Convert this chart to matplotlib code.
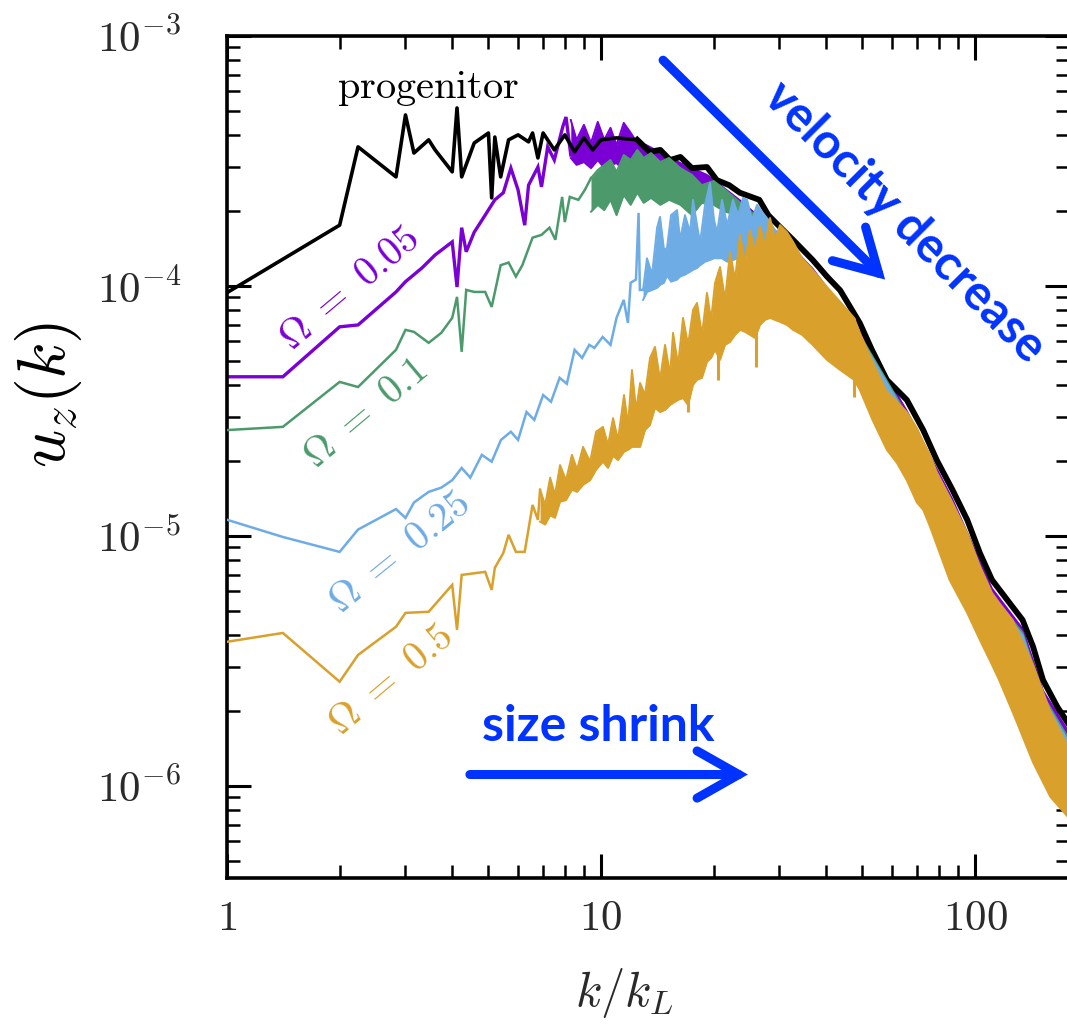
import numpy as np
import matplotlib
matplotlib.use('Agg')
import matplotlib.pyplot as plt
from matplotlib.patches import FancyArrowPatch, ArrowStyle
from matplotlib.ticker import LogLocator, NullFormatter

plt.rcParams['mathtext.fontset'] = 'cm'

# colours
c_prog = '#000000'
c_005 = '#7A00D6'
c_01 = '#4C9A6C'
c_025 = '#6EACE6'
c_05 = '#D9A02B'
c_note = '#0033FF'

# progenitor spectrum
black_k = [1, 2, 2.24, 2.83, 3, 3.16, 3.46, 3.6, 4.0, 4.12, 4.24, 4.58, 5.0, 5.1, 5.2,
           5.39, 5.66, 6.0, 6.4, 6.56, 6.78, 7.0, 7.5, 8.0, 8.5, 9.0, 9.5, 10, 11, 12.5,
           13.5, 14.4, 15.3, 16.3, 17.5, 19.2, 20.4, 22, 23.5, 26.5, 28, 30.1, 32.6, 36.8,
           40.2, 43.6, 49.2, 53, 58.1, 65.7, 72.7, 79, 87, 95.3, 103, 111, 126, 134, 143,
           152, 166, 180]
black_u = [9.4e-5, 1.75e-4, 3.6e-4, 2.73e-4, 4.83e-4, 3.4e-4, 3.84e-4, 3.5e-4, 2.86e-4,
           5.15e-4, 2.73e-4, 3.73e-4, 4.09e-4, 2.25e-4, 3.94e-4, 2.73e-4, 3.84e-4, 4.02e-4,
           3.77e-4, 4.09e-4, 3.25e-4, 4.09e-4, 3.5e-4, 4.02e-4, 3.44e-4, 3.91e-4, 3.5e-4,
           3.84e-4, 3.91e-4, 3.84e-4, 3.44e-4, 3.5e-4, 3.19e-4, 3.28e-4, 2.96e-4, 2.99e-4,
           2.65e-4, 2.53e-4, 2.36e-4, 2.21e-4, 1.92e-4, 1.72e-4, 1.53e-4, 1.27e-4, 1.09e-4,
           9.6e-5, 7.1e-5, 5.55e-5, 4.21e-5, 3.5e-5, 2.65e-5, 2.01e-5, 1.53e-5, 1.16e-5,
           8.55e-6, 6.67e-6, 5.2e-6, 4.61e-6, 3.6e-6, 2.65e-6, 2.07e-6, 1.72e-6]

# Omega = 0.05
purple_k = [1, 1.41, 2, 2.24, 2.83, 3, 3.32, 3.6, 4, 4.12, 4.24, 4.36, 4.58, 4.9, 5.2,
            5.48, 5.74, 6.0, 6.25, 6.4, 6.78, 6.93, 7.2, 7.5, 7.9, 8.06, 8.3]
purple_u = [4.33e-5, 4.33e-5, 6.86e-5, 6.98e-5, 9.46e-5, 1.04e-4, 1.18e-4, 1.33e-4, 1.50e-4,
            9.9e-5, 1.71e-4, 1.37e-4, 1.64e-4, 1.92e-4, 2.21e-4, 2.36e-4, 2.96e-4, 2.42e-4,
            1.75e-4, 2.53e-4, 2.99e-4, 2.49e-4, 3.6e-4, 3.19e-4, 4.33e-4, 4.74e-4, 3.34e-4]
purple_band_k = [8.3, 8.6, 9.0, 9.4, 9.8, 10.2, 10.6, 11.0, 11.5, 12.0, 12.4, 13.3, 16.3,
                 19.2, 23.5, 30.1, 36.8, 49.2, 65.7, 87, 111, 134, 152, 180]
purple_top = [4.61e-4, 3.84e-4, 4.41e-4, 3.74e-4, 4.53e-4, 3.84e-4, 4.29e-4, 3.66e-4, 4.49e-4,
              4.10e-4, 3.80e-4, 3.64e-4, 3.10e-4, 2.78e-4, 2.20e-4, 1.60e-4, 1.17e-4, 6.55e-5,
              3.16e-5, 1.40e-5, 6.15e-6, 4.25e-6, 2.40e-6, 1.60e-6]
purple_bot = [3.25e-4, 3.05e-4, 3.13e-4, 2.96e-4, 3.19e-4, 2.96e-4, 3.05e-4, 3.10e-4, 2.91e-4,
              3.19e-4, 2.96e-4, 2.78e-4, 2.49e-4, 2.21e-4, 1.89e-4, 1.42e-4, 1.04e-4, 5.81e-5,
              2.78e-5, 1.21e-5, 5.06e-6, 3.5e-6, 1.84e-6, 1.14e-6]

# Omega = 0.1
green_k = [1, 1.41, 2, 2.24, 2.83, 3, 3.16, 3.46, 3.74, 4, 4.12, 4.24, 4.36, 4.58, 4.9,
           5.1, 5.39, 5.66, 5.92, 6.16, 6.56, 6.93, 7.28, 7.55, 7.87, 8.0, 8.25, 8.7, 9.05, 9.4]
green_u = [2.65e-5, 2.73e-5, 4.13e-5, 3.94e-5, 5.55e-5, 6.67e-5, 6.55e-5, 5.92e-5, 6.49e-5,
           7.45e-5, 9.04e-5, 5.45e-5, 9.64e-5, 9.46e-5, 9.46e-5, 8.24e-5, 1.21e-4, 1.24e-4,
           1.09e-4, 1.21e-4, 1.56e-4, 1.60e-4, 1.71e-4, 1.53e-4, 2.27e-4, 1.80e-4, 2.27e-4,
           2.21e-4, 2.42e-4, 2.70e-4]
green_band_k = [9.4, 9.8, 10.2, 10.6, 11.0, 11.5, 12.0, 12.5, 13.0, 13.6, 14.4, 15.2, 16.3,
                17.5, 18.6, 20, 21.5, 23.5, 30.1, 36.8, 49.2, 65.7, 87, 111, 134, 152, 180]
green_top = [2.70e-4, 2.91e-4, 3.05e-4, 3.19e-4, 2.86e-4, 3.34e-4, 3.19e-4, 3.50e-4, 3.25e-4,
             3.40e-4, 3.13e-4, 3.25e-4, 2.96e-4, 2.78e-4, 2.53e-4, 2.63e-4, 2.42e-4, 2.16e-4,
             1.57e-4, 1.14e-4, 6.37e-5, 3.05e-5, 1.36e-5, 5.82e-6, 4.10e-6, 2.30e-6, 1.50e-6]
green_bot = [1.98e-4, 2.11e-4, 2.01e-4, 2.21e-4, 1.92e-4, 2.31e-4, 2.11e-4, 2.36e-4, 2.15e-4,
             2.25e-4, 2.11e-4, 2.21e-4, 2.11e-4, 1.92e-4, 2.15e-4, 2.11e-4, 1.98e-4, 1.91e-4,
             1.39e-4, 1.01e-4, 5.55e-5, 2.65e-5, 1.16e-5, 4.83e-6, 3.34e-6, 1.71e-6, 1.01e-6]

# Omega = 0.25
blue_k = [1, 1.41, 2, 2.24, 2.83, 3, 3.16, 3.46, 3.74, 4.0, 4.24, 4.47, 4.8, 5.1, 5.4,
          5.74, 6.0, 6.32, 6.63, 7.0, 7.35, 7.75, 8.1, 8.5, 8.9, 9.3, 9.6, 10.1, 10.6, 11.0,
          11.5, 11.8, 12.0, 12.4, 12.6, 12.7, 12.95]
blue_u = [1.16e-5, 9.9e-6, 8.63e-6, 1.06e-5, 1.28e-5, 1.18e-5, 1.36e-5, 1.50e-5, 1.56e-5,
          1.67e-5, 1.87e-5, 1.71e-5, 2.11e-5, 1.98e-5, 2.42e-5, 2.61e-5, 2.42e-5, 3.13e-5,
          2.91e-5, 3.66e-5, 3.44e-5, 4.29e-5, 4.06e-5, 5.55e-5, 5.15e-5, 5.81e-5, 5.65e-5,
          6.25e-5, 5.81e-5, 7.45e-5, 8.79e-5, 7.11e-5, 1.03e-4, 1.06e-4, 1.96e-4, 9.64e-5,
          9.64e-5]
blue_band_k = [12.95, 13.27, 13.69, 14.12, 14.38, 14.74, 15.01, 15.39, 15.97, 16.26, 16.77,
               17.30, 17.62, 18.06, 18.40, 18.97, 19.56, 20.05, 20.43, 21.06, 21.73, 22.54,
               23.25, 23.98, 24.58, 25.33, 26.13, 26.94, 28.30, 30.10, 36.8, 49.2, 65.7, 87,
               111, 134, 152, 180]
blue_top = [9.64e-5, 1.29e-4, 1.11e-4, 1.71e-4, 1.89e-4, 1.39e-4, 1.42e-4, 1.92e-4, 2.01e-4,
            1.53e-4, 1.92e-4, 1.64e-4, 2.21e-4, 1.75e-4, 1.49e-4, 2.11e-4, 2.58e-4, 1.84e-4,
            1.63e-4, 2.21e-4, 1.75e-4, 2.21e-4, 1.92e-4, 2.25e-4, 2.21e-4, 1.84e-4, 2.11e-4,
            1.98e-4, 1.80e-4, 1.55e-4, 1.12e-4, 6.25e-5, 2.98e-5, 1.33e-5, 5.70e-6, 4.00e-6,
            2.25e-6, 1.45e-6]
blue_bot = [8.79e-5, 9.46e-5, 9.64e-5, 9.82e-5, 1.01e-4, 1.03e-4, 1.10e-4, 1.04e-4, 1.06e-4,
            1.09e-4, 1.11e-4, 1.14e-4, 1.16e-4, 1.18e-4, 1.21e-4, 1.25e-4, 1.27e-4, 1.29e-4,
            1.29e-4, 1.29e-4, 1.25e-4, 1.27e-4, 1.29e-4, 1.33e-4, 1.33e-4, 1.37e-4, 1.39e-4,
            1.42e-4, 1.39e-4, 1.32e-4, 9.64e-5, 5.30e-5, 2.54e-5, 1.11e-5, 4.61e-6, 3.19e-6,
            1.60e-6, 9.2e-7]

# Omega = 0.5
gold_k = [1, 1.41, 2, 2.24, 2.83, 3, 3.46, 4, 4.12, 4.24, 4.9, 5.1, 5.2, 5.48, 5.66, 5.92,
          6.25, 6.56, 6.78, 6.87]
gold_u = [3.77e-6, 4.09e-6, 2.61e-6, 3.34e-6, 4.33e-6, 4.92e-6, 4.97e-6, 6.37e-6, 4.21e-6,
          6.98e-6, 7.18e-6, 6.08e-6, 7.45e-6, 8.55e-6, 1.01e-5, 8.63e-6, 8.63e-6, 1.33e-5,
          1.16e-5, 1.53e-5]
gold_band_k = [6.87, 7.09, 7.31, 7.53, 7.77, 8.06, 8.36, 8.63, 8.95, 9.35, 9.70, 10.12,
               10.44, 10.77, 11.10, 11.52, 11.81, 12.10, 12.41, 12.72, 13.11, 13.52, 13.94,
               14.38, 14.83, 15.30, 15.58, 16.07, 16.57, 17.09, 17.62, 18.06, 18.62, 19.20,
               19.69, 20.18, 20.81, 21.46, 22.13, 22.82, 23.53, 24.27, 25.02, 25.80, 26.61,
               27.44, 28.30, 29.19, 30.10, 31.43, 32.62, 34.5, 36.8, 40.2, 43.6, 47.5, 49.2,
               53.2, 58.1, 61.8, 65.7, 69.9, 72.7, 75.8, 79.0, 85.5, 95.3, 103, 111, 116, 126,
               143, 159, 180]
gold_top = [1.53e-5, 1.33e-5, 1.71e-5, 1.46e-5, 1.92e-5, 1.67e-5, 2.11e-5, 1.84e-5, 2.27e-5,
            1.98e-5, 2.61e-5, 2.73e-5, 2.31e-5, 2.96e-5, 2.42e-5, 3.66e-5, 2.78e-5, 4.61e-5,
            3.19e-5, 4.09e-5, 3.66e-5, 5.15e-5, 5.70e-5, 4.21e-5, 5.81e-5, 4.41e-5, 6.49e-5,
            4.83e-5, 7.45e-5, 5.81e-5, 8.02e-5, 8.55e-5, 6.37e-5, 9.38e-5, 7.31e-5, 1.03e-4,
            1.19e-4, 8.79e-5, 1.37e-4, 1.06e-4, 1.60e-4, 1.25e-4, 1.67e-4, 1.39e-4, 1.74e-4,
            1.46e-4, 1.87e-4, 1.53e-4, 1.75e-4, 1.64e-4, 1.50e-4, 1.29e-4, 1.16e-4, 9.9e-5,
            8.63e-5, 7.45e-5, 6.49e-5, 4.97e-5, 3.77e-5, 3.44e-5, 3.13e-5, 2.70e-5, 2.38e-5,
            2.11e-5, 1.80e-5, 1.43e-5, 1.03e-5, 7.59e-6, 5.92e-6, 5.40e-6, 4.61e-6, 3.05e-6,
            1.98e-6, 1.37e-6]
gold_bot = [1.14e-5, 1.11e-5, 1.21e-5, 1.18e-5, 1.37e-5, 1.39e-5, 1.53e-5, 1.50e-5, 1.60e-5,
            1.67e-5, 1.84e-5, 1.98e-5, 1.87e-5, 2.09e-5, 2.01e-5, 2.17e-5, 2.21e-5, 2.27e-5,
            2.27e-5, 2.27e-5, 2.65e-5, 2.78e-5, 3.25e-5, 3.13e-5, 3.19e-5, 3.34e-5, 3.40e-5,
            3.50e-5, 3.56e-5, 3.34e-5, 4.02e-5, 4.21e-5, 4.29e-5, 4.97e-5, 5.15e-5, 5.55e-5,
            5.06e-5, 5.81e-5, 5.97e-5, 6.37e-5, 6.67e-5, 6.55e-5, 6.37e-5, 6.19e-5, 6.98e-5,
            7.31e-5, 7.45e-5, 7.31e-5, 7.18e-5, 6.98e-5, 6.67e-5, 6.37e-5, 5.81e-5, 5.06e-5,
            4.61e-5, 4.21e-5, 3.84e-5, 2.91e-5, 2.21e-5, 1.96e-5, 1.67e-5, 1.36e-5, 1.27e-5,
            1.09e-5, 9.2e-6, 6.67e-6, 4.92e-6, 3.84e-6, 3.05e-6, 2.65e-6, 1.98e-6, 1.24e-6,
            9.04e-7, 7.31e-7]
gold_spike_k = [12.5, 17.1, 20.6, 25.9, 47.5]
gold_spike_u = [2.31e-5, 3.13e-5, 4.21e-5, 4.74e-5, 3.60e-5]


def draw_spectrum(ax, k, u, bk, top, bot, color, z, lw=1.8):
    ax.plot(k, u, color=color, lw=lw, zorder=z, solid_joinstyle='miter')
    ax.fill_between(bk, bot, top, color=color, lw=0, zorder=z)
    ax.plot(bk, top, color=color, lw=1.4, zorder=z)
    ax.plot(bk, bot, color=color, lw=1.4, zorder=z)


fig = plt.figure(figsize=(10.67, 10.27), dpi=100)
ax = fig.add_axes([0.2128, 0.1451, 0.7891, 0.8199])
ax.set_xscale('log')
ax.set_yscale('log')

draw_spectrum(ax, purple_k, purple_u, purple_band_k, purple_top, purple_bot, c_005, 2, lw=2.4)
bk_arr = np.array(black_k)
bu_arr = np.array(black_u)
ax.plot(bk_arr, bu_arr, color=c_prog, lw=2.6, zorder=3)
# the high-k part of the progenitor spectrum is a thicker noisy trace
tail = bk_arr >= 12
ax.plot(bk_arr[tail], bu_arr[tail], color=c_prog, lw=4.2, zorder=3)
draw_spectrum(ax, green_k, green_u, green_band_k, green_top, green_bot, c_01, 4)
draw_spectrum(ax, blue_k, blue_u, blue_band_k, blue_top, blue_bot, c_025, 5)
draw_spectrum(ax, gold_k, gold_u, gold_band_k, gold_top, gold_bot, c_05, 6)

# deep dips of the Omega = 0.5 spectrum
spike_base = np.exp(np.interp(np.log(gold_spike_k), np.log(gold_band_k), np.log(gold_top)))
ax.vlines(gold_spike_k, gold_spike_u, spike_base, color=c_05, lw=2.2, zorder=6)

ax.set_xlim(1, 178.4)
ax.set_ylim(4.28e-7, 1e-3)

# axes frame and ticks
for sp in ax.spines.values():
    sp.set_linewidth(2.6)
ax.set_xticks([1, 10, 100])
ax.set_xticklabels([r'$1$', r'$10$', r'$100$'])
ax.set_yticks([1e-6, 1e-5, 1e-4, 1e-3])
ax.set_yticklabels([r'$10^{-6}$', r'$10^{-5}$', r'$10^{-4}$', r'$10^{-3}$'])
ax.xaxis.set_minor_locator(LogLocator(base=10, subs=np.arange(2, 10), numticks=20))
ax.yaxis.set_minor_locator(LogLocator(base=10, subs=np.arange(2, 10), numticks=20))
ax.xaxis.set_minor_formatter(NullFormatter())
ax.yaxis.set_minor_formatter(NullFormatter())
ax.tick_params(which='both', direction='in', top=True, right=True)
ax.tick_params(which='major', length=17, width=2.2, labelsize=31, labelcolor='#2a2a2a')
ax.tick_params(which='minor', length=9.5, width=1.8)
ax.tick_params(axis='y', which='major', pad=33)
ax.tick_params(axis='x', which='major', pad=14)

ax.set_xlabel(r'$k/k_L$', fontsize=35, color='#2a2a2a')
ax.xaxis.set_label_coords(0.472, -0.104)
ax.set_ylabel(r'$u_z(k)$', fontsize=48)
ax.yaxis.set_label_coords(-0.17, 0.574)

# curve labels
ax.text(3.45, 6.2e-4, r'$\mathrm{progenitor}$', fontsize=29, ha='center', va='center')
ax.text(2.13, 9.8e-5, r'$\Omega\ =\ 0.05$', color=c_005, fontsize=29, rotation=40,
        ha='center', va='center', rotation_mode='anchor')
ax.text(2.35, 3.1e-5, r'$\Omega\ =\ 0.1$', color=c_01, fontsize=29, rotation=40,
        ha='center', va='center', rotation_mode='anchor')
ax.text(2.90, 8.6e-6, r'$\Omega\ =\ 0.25$', color=c_025, fontsize=29, rotation=39,
        ha='center', va='center', rotation_mode='anchor')
ax.text(2.75, 2.65e-6, r'$\Omega\ =\ 0.5$', color=c_05, fontsize=29, rotation=40,
        ha='center', va='center', rotation_mode='anchor')

# trend arrows
head = ArrowStyle('->', head_length=0.30, head_width=0.17)
a1 = FancyArrowPatch((14.65, 8.0e-4), (57.5, 1.06e-4), arrowstyle=head, mutation_scale=100,
                     lw=6.5, color=c_note, shrinkA=0, shrinkB=0, joinstyle='miter', zorder=8)
ax.add_patch(a1)
a2 = FancyArrowPatch((4.46, 1.11e-6), (24.7, 1.11e-6), arrowstyle=head, mutation_scale=100,
                     lw=6.5, color=c_note, shrinkA=0, shrinkB=0, joinstyle='miter', zorder=8)
ax.add_patch(a2)
ax.text(65.0, 1.8e-4, 'velocity decrease', color=c_note, fontsize=35, fontweight='bold',
        family=['Lato', 'DejaVu Sans'], rotation=-45, ha='center', va='center',
        rotation_mode='anchor', zorder=8)
ax.text(9.82, 1.72e-6, 'size shrink', color=c_note, fontsize=36, fontweight='bold',
        family=['Lato', 'DejaVu Sans'], ha='center', va='center', zorder=8)

fig.savefig('out.png', dpi=100)
